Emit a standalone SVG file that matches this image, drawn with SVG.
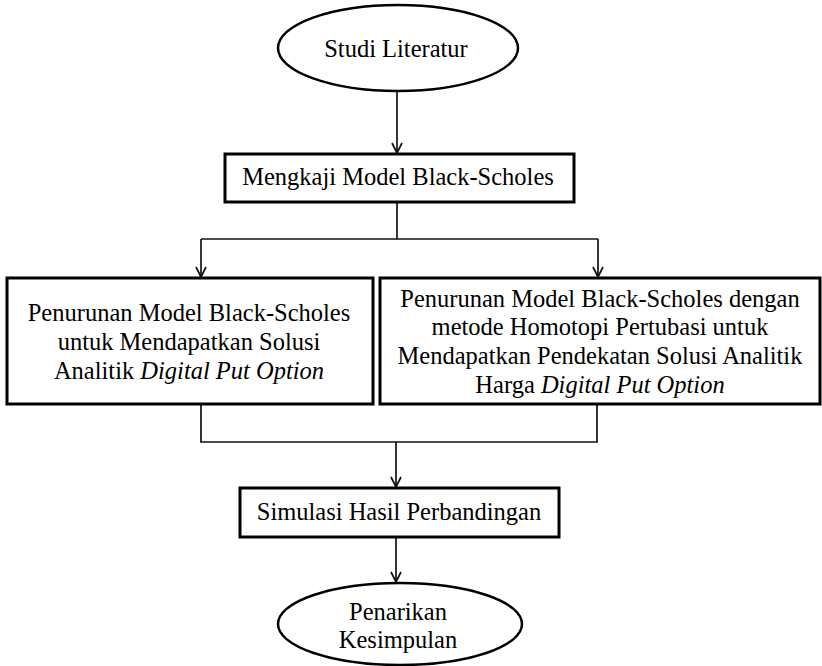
<svg xmlns="http://www.w3.org/2000/svg" width="822" height="666" viewBox="0 0 822 666">
<defs>
<style>
.box{fill:#fff;stroke:#000;stroke-width:3}
.ell{fill:#fff;stroke:#000;stroke-width:2.5}
.t{font-family:"Liberation Serif","Times New Roman",serif;font-size:24.5px;fill:#000;text-anchor:middle}
.i{font-style:italic}
.c{fill:none;stroke:#111;stroke-width:1.7}
</style>
<marker id="arr" viewBox="0 0 12 12" refX="11" refY="6" markerWidth="12" markerHeight="12" markerUnits="userSpaceOnUse" orient="auto">
<path d="M1,1 L11,6 L1,11" fill="none" stroke="#111" stroke-width="1.7"/>
</marker>
</defs>
<g id="connectors">
<line class="c" x1="397" y1="92" x2="397" y2="153" marker-end="url(#arr)"/>
<polyline class="c" points="397,202 397,239"/>
<polyline class="c" points="201,239 598,239"/>
<line class="c" x1="201" y1="239" x2="201" y2="277" marker-end="url(#arr)"/>
<line class="c" x1="598" y1="239" x2="598" y2="277" marker-end="url(#arr)"/>
<polyline class="c" points="201,405 201,442 597,442 597,405"/>
<line class="c" x1="396" y1="442" x2="396" y2="487" marker-end="url(#arr)"/>
<line class="c" x1="396" y1="537" x2="396" y2="582" marker-end="url(#arr)"/>
</g>
<g id="studi">
<ellipse class="ell" cx="398" cy="48" rx="120" ry="43"/>
<text class="t" x="396" y="57">Studi Literatur</text>
</g>
<g id="mengkaji">
<rect class="box" x="225" y="154" width="349" height="48"/>
<text class="t" x="398" y="185">Mengkaji Model Black-Scholes</text>
</g>
<g id="analitik">
<rect class="box" x="7" y="278" width="366" height="126"/>
<text class="t" x="189" y="321">Penurunan Model Black-Scholes</text>
<text class="t" x="189" y="350">untuk Mendapatkan Solusi</text>
<text class="t" x="189" y="379">Analitik <tspan class="i">Digital Put Option</tspan></text>
</g>
<g id="homotopi">
<rect class="box" x="380" y="278" width="440" height="126"/>
<text class="t" x="600" y="307">Penurunan Model Black-Scholes dengan</text>
<text class="t" x="600" y="335">metode Homotopi Pertubasi untuk</text>
<text class="t" x="600" y="364">Mendapatkan Pendekatan Solusi Analitik</text>
<text class="t" x="600" y="393">Harga <tspan class="i">Digital Put Option</tspan></text>
</g>
<g id="simulasi">
<rect class="box" x="240" y="488" width="319" height="49"/>
<text class="t" x="399" y="520">Simulasi Hasil Perbandingan</text>
</g>
<g id="kesimpulan">
<ellipse class="ell" cx="400" cy="624" rx="122" ry="41"/>
<text class="t" x="398" y="620">Penarikan</text>
<text class="t" x="398" y="648">Kesimpulan</text>
</g>
</svg>
